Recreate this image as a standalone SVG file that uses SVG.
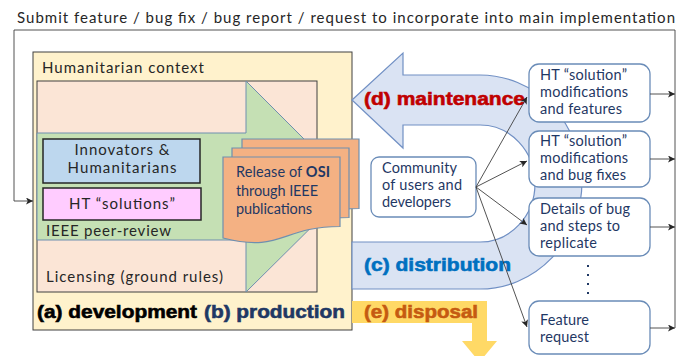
<svg xmlns="http://www.w3.org/2000/svg" width="678" height="356" viewBox="0 0 678 356">
  <style>
    .t { font-family: Lato, "Liberation Sans", sans-serif; font-size: 15px; fill: #262626; }
    .tn { font-family: Lato, "Liberation Sans", sans-serif; font-size: 14.5px; fill: #1F3864; }
    .hv { font-family: "Liberation Sans", Arial, sans-serif; font-weight: bold; font-size: 19px; stroke-width: 0.6; }
    .rbox { fill: #FFFFFF; stroke: #6A8CB8; stroke-width: 1.3; }
    .doc { fill: #F4B183; stroke: #6F8FAF; stroke-width: 1.2; }
    .conn { fill: none; stroke: #404040; stroke-width: 0.9; }
  </style>
  <defs>
    <marker id="arr" viewBox="0 0 10 10" refX="10" refY="5" markerWidth="8" markerHeight="7" markerUnits="userSpaceOnUse" orient="auto">
      <path d="M0,0 L10,5 L0,10 L2.5,5 Z" fill="#262626"/>
    </marker>
  </defs>

  <rect width="678" height="356" fill="#FFFFFF"/>

  <!-- heading -->
  <text class="t" x="17" y="23" font-size="15" textLength="658">Submit feature / bug fix / bug report / request to incorporate into main implementation</text>

  <!-- development / production block -->
  <g id="development">
    <rect x="33" y="52" width="319" height="278" fill="#FFF2CC" stroke="#404040" stroke-width="1"/>
    <text class="t" x="42" y="73" font-size="16" textLength="162">Humanitarian context</text>
    <rect x="37" y="81" width="280" height="211" fill="#FBE5D6" stroke="#404040" stroke-width="1"/>
    <path d="M37,133 H246 V81 L352,187 L246,292 V240 H37 Z" fill="#C5E0B4" stroke="#6F8FAF" stroke-width="1"/>
    <text class="t" x="46" y="236" font-size="16" textLength="125">IEEE peer-review</text>
    <text class="t" x="46" y="282" font-size="16" textLength="177">Licensing (ground rules)</text>
    <text class="hv" x="37" y="318" fill="#000000" stroke="#000000" textLength="160" lengthAdjust="spacingAndGlyphs">(a) development</text>
    <text class="hv" x="204" y="318" fill="#1F3864" stroke="#1F3864" textLength="141" lengthAdjust="spacingAndGlyphs">(b) production</text>
  </g>

  <g id="innovators">
    <rect x="43" y="139" width="157" height="44" fill="#BDD7EE" stroke="#262626" stroke-width="1.5"/>
    <text class="t" x="122" y="155" text-anchor="middle" font-size="16" textLength="95">Innovators &amp;</text>
    <text class="t" x="122" y="173" text-anchor="middle" font-size="16" textLength="109">Humanitarians</text>
  </g>

  <g id="ht-solutions">
    <rect x="43" y="188" width="158" height="32" fill="#FFCCFF" stroke="#262626" stroke-width="1.5"/>
    <text class="t" x="122" y="209" text-anchor="middle" font-size="16" textLength="106">HT “solutions”</text>
  </g>

  <g id="release">
    <path class="doc" d="M242,139 H359 V208.5 C300.5,208.5 300.5,235 242,220 Z"/>
    <path class="doc" d="M232,148 H349 V217.5 C290.5,217.5 290.5,244 232,229 Z"/>
    <path class="doc" d="M223,157 H340 V226.5 C281.5,226.5 281.5,253 223,238 Z"/>
    <text class="tn" x="236" y="177" font-size="15" textLength="94">Release of <tspan font-weight="bold">OSI</tspan></text>
    <text class="tn" x="236" y="196" font-size="15" textLength="82">through IEEE</text>
    <text class="tn" x="236" y="214" font-size="15" textLength="76">publications</text>
  </g>

  <!-- distribution / maintenance loop -->
  <g id="loop">
    <path d="M352,100 L403,53 V75 H480 A102,107 0 0 1 480,289 H352 V242 H480 A55,58.5 0 0 0 480,125 H403 V148 Z" fill="#DAE3F3" stroke="#7190C4" stroke-width="1.2"/>
    <text class="hv" x="364" y="271" fill="#0070C0" stroke="#0070C0" textLength="147" lengthAdjust="spacingAndGlyphs">(c) distribution</text>
  </g>

  <g id="disposal">
    <path d="M352,301 H487 V341 H497 L479.5,362 L462,341 H472 V323 H352 Z" fill="#FFD966"/>
    <text class="hv" x="364" y="318" fill="#C55A11" stroke="#C55A11" textLength="114" lengthAdjust="spacingAndGlyphs">(e) disposal</text>
  </g>

  <g id="community">
    <rect class="rbox" x="371" y="157" width="105" height="60" rx="8"/>
    <text class="tn" x="382" y="173" textLength="75">Community</text>
    <text class="tn" x="382" y="190" textLength="80">of users and</text>
    <text class="tn" x="382" y="207" textLength="69">developers</text>
  </g>

  <g id="features">
    <rect class="rbox" x="529" y="64" width="121" height="58" rx="10"/>
    <text class="tn" x="540" y="80" textLength="87">HT “solution”</text>
    <text class="tn" x="540" y="97" textLength="88">modifications</text>
    <text class="tn" x="540" y="114" textLength="82">and features</text>
  </g>

  <g id="bug-fixes">
    <rect class="rbox" x="529" y="131" width="121" height="56" rx="10"/>
    <text class="tn" x="540" y="146" textLength="87">HT “solution”</text>
    <text class="tn" x="540" y="163" textLength="88">modifications</text>
    <text class="tn" x="540" y="180" textLength="86">and bug fixes</text>
  </g>

  <g id="bug-report">
    <rect class="rbox" x="529" y="198" width="121" height="58" rx="10"/>
    <text class="tn" x="540" y="214" textLength="90">Details of bug</text>
    <text class="tn" x="540" y="231" textLength="80">and steps to</text>
    <text class="tn" x="540" y="248" textLength="57">replicate</text>
  </g>

  <g id="ellipsis" fill="#1F3864">
    <rect x="587" y="265" width="2" height="2"/>
    <rect x="587" y="274" width="2" height="2"/>
    <rect x="587" y="283" width="2" height="2"/>
    <rect x="587" y="292" width="2" height="2"/>
  </g>

  <g id="feature-request">
    <rect class="rbox" x="529" y="301" width="121" height="53" rx="10"/>
    <text class="tn" x="540" y="325" textLength="49">Feature</text>
    <text class="tn" x="540" y="342" textLength="49">request</text>
  </g>

  <!-- maintenance label sits above the loop and the boxes -->
  <text class="hv" x="364" y="105" fill="#C00000" stroke="#C00000" textLength="161" lengthAdjust="spacingAndGlyphs">(d) maintenance</text>

  <g id="connectors">
    <line class="conn" x1="476" y1="187" x2="527" y2="97" marker-end="url(#arr)"/>
    <line class="conn" x1="476" y1="187" x2="527" y2="161" marker-end="url(#arr)"/>
    <line class="conn" x1="476" y1="187" x2="527" y2="225" marker-end="url(#arr)"/>
    <line class="conn" x1="476" y1="187" x2="527" y2="327" marker-end="url(#arr)"/>
    <line class="conn" x1="650" y1="94" x2="675" y2="94" marker-end="url(#arr)"/>
    <line class="conn" x1="650" y1="159" x2="675" y2="159" marker-end="url(#arr)"/>
    <line class="conn" x1="650" y1="227" x2="675" y2="227" marker-end="url(#arr)"/>
    <line class="conn" x1="650" y1="328" x2="675" y2="328" marker-end="url(#arr)"/>
    <path class="conn" d="M675,328 V30 H14 V201 H33" stroke="#595959" marker-end="url(#arr)"/>
  </g>
</svg>
